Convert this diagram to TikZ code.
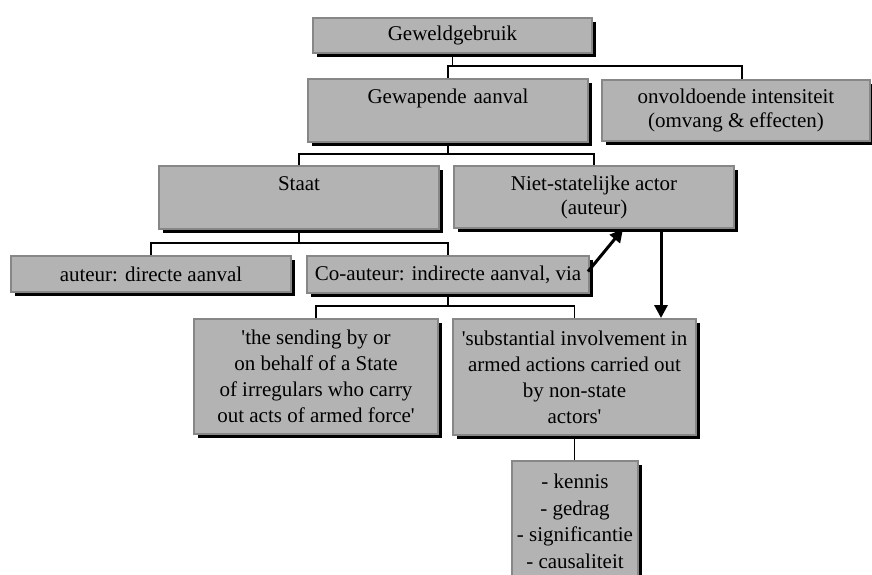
\documentclass[tikz,border=0pt]{standalone}
\usepackage{fontspec}
\setmainfont{Liberation Serif}
\usetikzlibrary{arrows.meta,shadows,calc}
\definecolor{boxfill}{RGB}{179,179,179}
\definecolor{boxedge}{RGB}{135,135,135}
\begin{document}
\begin{tikzpicture}[x=1pt,y=-1pt,
  box/.style={draw=boxedge, fill=boxfill, line width=2pt, align=center,
    anchor=north, inner sep=0pt, font=\fontsize{21}{24}\selectfont,
    drop shadow={shadow xshift=3.5pt, shadow yshift=-3.5pt, fill=black, opacity=1}},
  topbox/.style={text height=24pt, text depth=39pt},
  quotebox/.style={font=\fontsize{21}{26}\selectfont},
  conn/.style={line width=1.5pt, black},
  bigarrow/.style={line width=3pt, black, -{Triangle[length=13pt,width=13pt]}}]
\useasboundingbox (0,0) rectangle (872,574);
\clip (0,0) rectangle (872,574);

% boxes of the chart
\node[box, minimum width=279pt, minimum height=35pt] (gew) at (452.5,17) {Geweldgebruik};
\node[box, topbox, text width=280pt] (aan) at (448,78) {Gewapende aanval};
\node[box, minimum width=268pt, minimum height=61pt] (onv) at (736,79)
  {onvoldoende intensiteit\\(omvang \& effecten)};
\node[box, topbox, text width=280pt] (sta) at (299,165) {Staat};
\node[box, minimum width=280pt, minimum height=62pt] (nie) at (594,165)
  {Niet-statelijke actor\\(auteur)};
\node[box, minimum width=280pt, minimum height=36pt] (dir) at (151,255) {auteur: directe aanval};
\node[box, minimum width=282pt, minimum height=37pt] (co) at (448,255) {Co-auteur: indirecte aanval, via};
\node[box, quotebox, minimum width=244pt, minimum height=115pt] (send) at (316,318)
  {\textquotesingle the sending by or\\on behalf of a State\\of irregulars who carry\\out acts of armed force\textquotesingle};
\node[box, quotebox, minimum width=243pt, minimum height=116pt] (subs) at (574.5,318)
  {\textquotesingle substantial involvement in\\armed actions carried out\\by non-state\\actors\textquotesingle};
\node[box, font=\fontsize{21}{26.5}\selectfont, minimum width=126pt, minimum height=121pt] (fac) at (575,460)
  {- kennis\\- gedrag\\- significantie\\- causaliteit};

% tree connectors
\coordinate (b1l) at (448,66);
\coordinate (b1r) at (742,66);
\draw[conn] (gew.south) -- (gew.south |- b1l);
\draw[conn] (aan.north) |- (b1r) -- (b1r |- onv.north);

\draw[conn] (aan.south) -- ++(0,11) coordinate (b2);
\draw[conn] (sta.north) |- (b2) -| (nie.north);

\draw[conn] (sta.south) -- ++(0,13) coordinate (b3);
\draw[conn] (dir.north) |- (b3) -| (co.north);

\draw[conn] (co.south) -- ++(0,12) coordinate (b4);
\draw[conn] (send.north) |- (b4) -| (subs.north);

\draw[conn] (subs.south) -- (subs.south |- fac.north);

% arrows between the co-author branch and the non-state actor
\coordinate (up) at ($(nie.south west)+(170,0)$);
\coordinate (dn) at ($(nie.south west)+(208,2)$);
\draw[bigarrow] ($(co.east)+(-2,-3)$) -- (up);
\draw[bigarrow] (dn) -- (dn |- subs.north);
\end{tikzpicture}
\end{document}
